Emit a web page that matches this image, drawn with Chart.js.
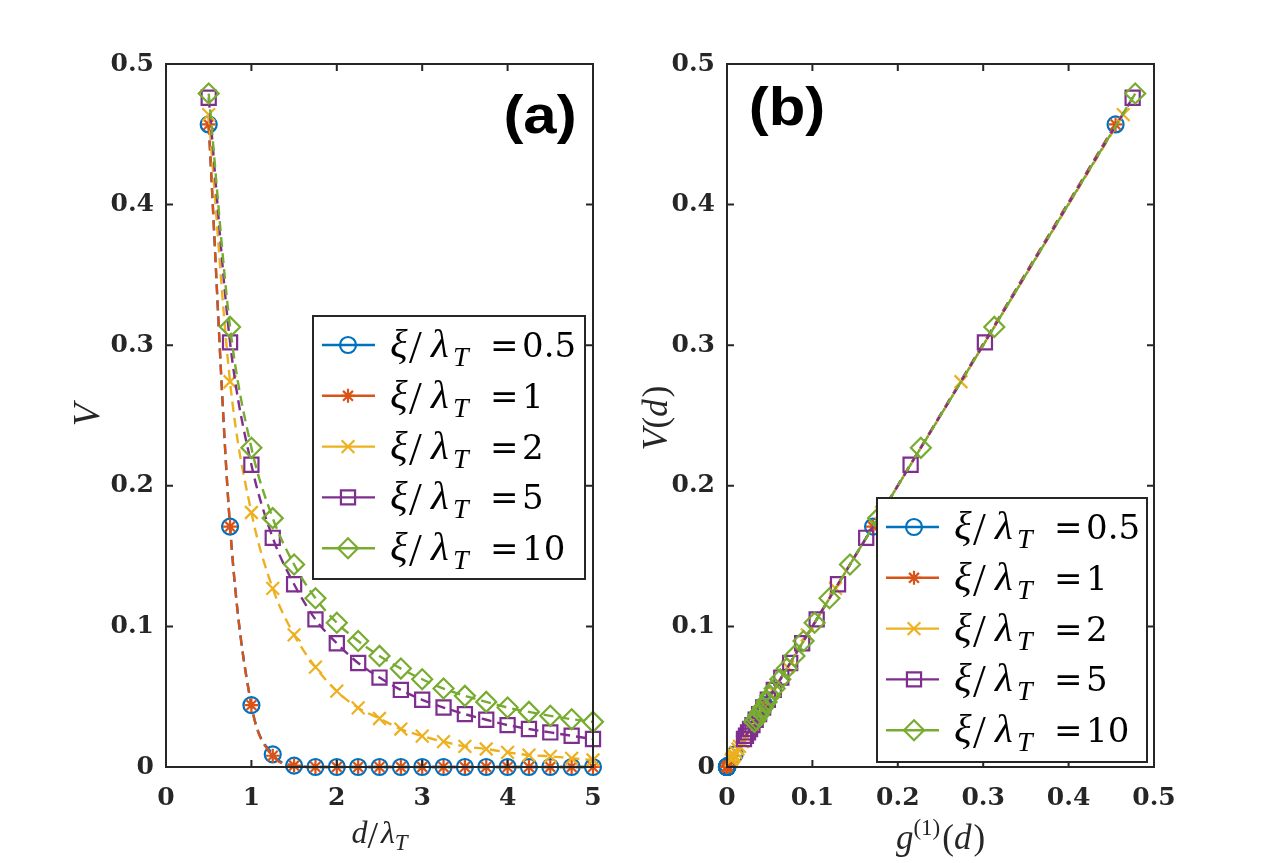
<!DOCTYPE html>
<html><head><meta charset="utf-8">
<script src="https://cdn.jsdelivr.net/npm/chart.js@4.4.1/dist/chart.umd.min.js"></script>
<style>
html,body{margin:0;padding:0;background:#fff;width:1275px;height:863px;overflow:hidden}
canvas{position:absolute;left:0;top:0}
</style></head><body>
<canvas id="ca" width="1275" height="863"></canvas>
<canvas id="cb" width="1275" height="863"></canvas>
<script>
// ---------- data ----------
const dOverLambda = [0.5,0.75,1,1.25,1.5,1.75,2,2.25,2.5,2.75,3,3.25,3.5,3.75,4,4.25,4.5,4.75,5];
const xiValues = ['0.5','1','2','5','10'];
const xTicksA = [0,1,2,3,4,5];
const xTicksB = [0,0.1,0.2,0.3,0.4,0.5];
const yTicks = [0,0.1,0.2,0.3,0.4,0.5];

// panel (a): V versus d/lambda_T
const V_xi05 = [0.457,0.171,0.044,0.009,0.001,0,0,0,0,0,0,0,0,0,0,0,0,0,0];
const V_xi1  = [0.457,0.171,0.044,0.008,0.001,0,0,0,0,0,0,0,0,0,0,0,0,0,0];
const V_xi2  = [0.464,0.274,0.181,0.127,0.094,0.071,0.054,0.042,0.0345,0.027,0.022,0.018,0.0147,0.0128,0.0104,0.0085,0.0076,0.0062,0.005];
const V_xi5  = [0.476,0.302,0.215,0.163,0.130,0.105,0.088,0.074,0.0636,0.0548,0.0478,0.0423,0.0376,0.0336,0.0298,0.027,0.0246,0.0222,0.0199];
const V_xi10 = [0.479,0.313,0.227,0.177,0.144,0.120,0.1026,0.0896,0.079,0.070,0.0624,0.0558,0.0506,0.0463,0.0423,0.0392,0.0364,0.034,0.0321];

// panel (b): g1(d) (b)
const g1_xi05 = [0.455,0.171,0.044,0.009,0.001,0,0,0,0,0,0,0,0,0,0,0,0,0,0];
const g1_xi1  = [0.455,0.171,0.044,0.008,0.001,0,0,0,0,0,0,0,0,0,0,0,0,0,0];
const g1_xi2  = [0.464,0.274,0.181,0.127,0.094,0.071,0.054,0.042,0.0345,0.027,0.022,0.018,0.0147,0.0128,0.0104,0.0085,0.0076,0.0062,0.005];
const g1_xi5  = [0.475,0.302,0.215,0.163,0.130,0.105,0.088,0.074,0.0636,0.0548,0.0478,0.0423,0.0376,0.0336,0.0298,0.027,0.0246,0.0222,0.0199];
const g1_xi10 = [0.478,0.313,0.227,0.177,0.144,0.120,0.1026,0.0896,0.079,0.070,0.0624,0.0558,0.0506,0.0463,0.0423,0.0392,0.0364,0.034,0.0321];

// ---------- styles ----------
const COLORS = ['#0072BD','#D95319','#EDB120','#7E2F8E','#77AC30'];
const MARKERS = [
  {style:'circle', r:8},
  {style:'star', r:7},
  {style:'crossRot', r:9},
  {style:'rect', r:10},
  {style:'rectRot', r:10}
];
const AX = '#262626';

const seriesV = [V_xi05, V_xi1, V_xi2, V_xi5, V_xi10];
const seriesG = [g1_xi05, g1_xi1, g1_xi2, g1_xi5, g1_xi10];

function makeDatasets(xsList, smooth) {
  return seriesV.map((ys, i) => ({
    label: 'ξ/λT =' + xiValues[i],
    xi: xiValues[i],
    data: ys.map((y, k) => ({x: xsList[i] ? xsList[i][k] : dOverLambda[k], y})),
    borderColor: COLORS[i],
    backgroundColor: COLORS[i],
    borderWidth: 2.4,
    borderDash: [10, 6],
    pointStyle: MARKERS[i].style,
    pointRadius: MARKERS[i].r,
    pointBorderWidth: 2.2,
    pointBorderColor: COLORS[i],
    pointBackgroundColor: 'rgba(0,0,0,0)',
    fill: false,
    cubicInterpolationMode: smooth ? 'monotone' : 'default',
    tension: 0,
    clip: false,
    order: 4 - i
  }));
}

function drawMarker(ctx, style, x, y, r) {
  ctx.beginPath();
  if (style === 'circle') { ctx.arc(x, y, r, 0, Math.PI * 2); }
  else if (style === 'star') {
    ctx.moveTo(x - r, y); ctx.lineTo(x + r, y);
    ctx.moveTo(x, y - r); ctx.lineTo(x, y + r);
    const o = r * Math.SQRT1_2;
    ctx.moveTo(x - o, y - o); ctx.lineTo(x + o, y + o);
    ctx.moveTo(x - o, y + o); ctx.lineTo(x + o, y - o);
  } else if (style === 'crossRot') {
    const o = r * Math.SQRT1_2;
    ctx.moveTo(x - o, y - o); ctx.lineTo(x + o, y + o);
    ctx.moveTo(x - o, y + o); ctx.lineTo(x + o, y - o);
  } else if (style === 'rect') {
    const s = r * Math.SQRT1_2; ctx.rect(x - s, y - s, 2 * s, 2 * s);
  } else if (style === 'rectRot') {
    ctx.moveTo(x - r, y); ctx.lineTo(x, y - r); ctx.lineTo(x + r, y); ctx.lineTo(x, y + r); ctx.closePath();
  }
  ctx.stroke();
}

function drawSeq(ctx, pieces, cx, baseline) {
  let w = 0;
  pieces.forEach(p => { ctx.font = p.font; w += ctx.measureText(p.t).width + (p.kern || 0); });
  let x = cx - w / 2;
  ctx.textAlign = 'left'; ctx.textBaseline = 'alphabetic';
  pieces.forEach(p => { ctx.font = p.font; ctx.fillText(p.t, x, baseline + (p.dy || 0)); x += ctx.measureText(p.t).width + (p.kern || 0); });
}

const deco = {
  id: 'deco',
  afterDatasetsDraw(chart, args, o) {
    const ctx = chart.ctx, a = chart.chartArea;
    const xs = chart.scales.x, ys = chart.scales.y;
    ctx.save();
    ctx.setLineDash([]);
    ctx.strokeStyle = AX; ctx.lineWidth = 2;
    ctx.strokeRect(a.left, a.top, a.right - a.left, a.bottom - a.top);
    const tl = 7;
    ctx.beginPath();
    xs.ticks.forEach(t => { const p = xs.getPixelForValue(t.value);
      ctx.moveTo(p, a.bottom); ctx.lineTo(p, a.bottom - tl);
      ctx.moveTo(p, a.top); ctx.lineTo(p, a.top + tl); });
    ys.ticks.forEach(t => { const p = ys.getPixelForValue(t.value);
      ctx.moveTo(a.left, p); ctx.lineTo(a.left + tl, p);
      ctx.moveTo(a.right, p); ctx.lineTo(a.right - tl, p); });
    ctx.stroke();

    // axis titles
    ctx.fillStyle = AX;
    drawSeq(ctx, o.xTitle, (a.left + a.right) / 2, o.xTitleBaseline);
    ctx.save();
    ctx.translate(o.yTitleX, o.yTitleY);
    ctx.rotate(-Math.PI / 2);
    drawSeq(ctx, o.yTitle, 0, 0);
    ctx.restore();

    // panel tag
    ctx.save();
    ctx.fillStyle = '#000';
    ctx.font = 'bold 53px "Liberation Sans", Arial, sans-serif';
    ctx.translate(o.tag.x, o.tag.y);
    ctx.scale(1.13, 1);
    ctx.textAlign = 'center'; ctx.textBaseline = 'alphabetic';
    ctx.fillText(o.tag.t, 0, 0);
    ctx.restore();

    // legend
    const L = o.legend;
    ctx.fillStyle = '#fff';
    ctx.fillRect(L.x, L.y, L.w, L.h);
    ctx.strokeStyle = AX; ctx.lineWidth = 2;
    ctx.strokeRect(L.x, L.y, L.w, L.h);
    chart.data.datasets.forEach((ds, i) => {
      const cy = L.y + 29 + i * L.step;
      ctx.strokeStyle = ds.borderColor; ctx.lineWidth = 2.4;
      ctx.beginPath(); ctx.moveTo(L.x + 9, cy); ctx.lineTo(L.x + 62, cy); ctx.stroke();
      ctx.lineWidth = 2.2;
      drawMarker(ctx, ds.pointStyle, L.x + L.mx, cy, ds.pointRadius);
      const tx = L.x + 77, bl = cy + 12;
      ctx.fillStyle = '#000';
      ctx.textAlign = 'left'; ctx.textBaseline = 'alphabetic';
      ctx.font = 'italic 41px "Liberation Serif", serif'; ctx.fillText('ξ', tx, bl);
      ctx.font = '46px "Liberation Serif", serif'; ctx.fillText('/', tx + 19, bl + 6);
      ctx.font = 'italic 41px "Liberation Serif", serif'; ctx.fillText('λ', tx + 41, bl);
      ctx.font = 'italic 28px "Liberation Serif", serif'; ctx.fillText('T', tx + 63, bl + 9);
      ctx.font = '34px "DejaVu Serif", serif'; ctx.fillText('=', tx + 100, bl);
      ctx.fillText(ds.xi, tx + 132, bl);
    });
    ctx.restore();
  }
};

function scaleOpts(min, max, step, isX, tickVals) {
  return {
    type: 'linear', min, max,
    afterBuildTicks: s => { s.ticks = tickVals.map(v => ({value: v})); },
    ticks: {
      color: AX, padding: isX ? 16 : 12, autoSkip: false, maxRotation: 0,
      font: {family: '"DejaVu Serif", serif', weight: 'bold', size: 25},
      callback: v => String(+v.toFixed(2))
    },
    grid: {display: false, drawTicks: false},
    border: {display: false},
    afterFit: s => { if (isX) s.height = 96; else s.width = 100; }
  };
}

const common = (padL, padR) => ({
  responsive: false, animation: false, events: [],
  layout: {padding: {left: padL, right: padR, top: 64, bottom: 0}},
  elements: {line: {borderJoinStyle: 'round'}},
  plugins: {legend: {display: false}, tooltip: {enabled: false}}
});

const optsA = common(66, 1275 - 593);
optsA.scales = {x: scaleOpts(0, 5, 1, true, xTicksA), y: scaleOpts(0, 0.5, 0.1, false, yTicks)};
optsA.plugins.deco = {
  xTitle: [
    {t: 'd', font: 'italic 32px "Liberation Serif", serif'},
    {t: '/', font: '38px "Liberation Serif", serif', dy: 5, kern: 3},
    {t: 'λ', font: 'italic 32px "Liberation Serif", serif'},
    {t: 'T', font: 'italic 23px "Liberation Serif", serif', dy: 7}
  ],
  xTitleBaseline: 843,
  yTitle: [{t: 'V', font: 'italic 37px "Liberation Serif", serif'}],
  yTitleX: 99, yTitleY: 415,
  tag: {t: '(a)', x: 540, y: 133},
  legend: {x: 313, y: 316, w: 272, h: 263, step: 50.8, mx: 35}
};

const optsB = common(627, 1275 - 1154);
optsB.scales = {x: scaleOpts(0, 0.5, 0.1, true, xTicksB), y: scaleOpts(0, 0.5, 0.1, false, yTicks)};
optsB.plugins.deco = {
  xTitle: [
    {t: 'g', font: 'italic 35px "Liberation Serif", serif'},
    {t: '(1)', font: '23px "Liberation Serif", serif', dy: -14, kern: 2},
    {t: '(', font: '35px "Liberation Serif", serif'},
    {t: 'd', font: 'italic 35px "Liberation Serif", serif', kern: 2},
    {t: ')', font: '35px "Liberation Serif", serif'}
  ],
  xTitleBaseline: 849,
  yTitle: [
    {t: 'V', font: 'italic 36px "Liberation Serif", serif'},
    {t: '(', font: '35px "Liberation Serif", serif'},
    {t: 'd', font: 'italic 35px "Liberation Serif", serif', kern: 2},
    {t: ')', font: '35px "Liberation Serif", serif'}
  ],
  yTitleX: 667, yTitleY: 418,
  tag: {t: '(b)', x: 787, y: 125},
  legend: {x: 877, y: 498, w: 270, h: 264, step: 50.8, mx: 37}
};

new Chart(document.getElementById('ca'), {
  type: 'line',
  data: {datasets: makeDatasets([], true)},
  options: optsA,
  plugins: [deco]
});
new Chart(document.getElementById('cb'), {
  type: 'line',
  data: {datasets: makeDatasets(seriesG, false)},
  options: optsB,
  plugins: [deco]
});
</script>
</body></html>
